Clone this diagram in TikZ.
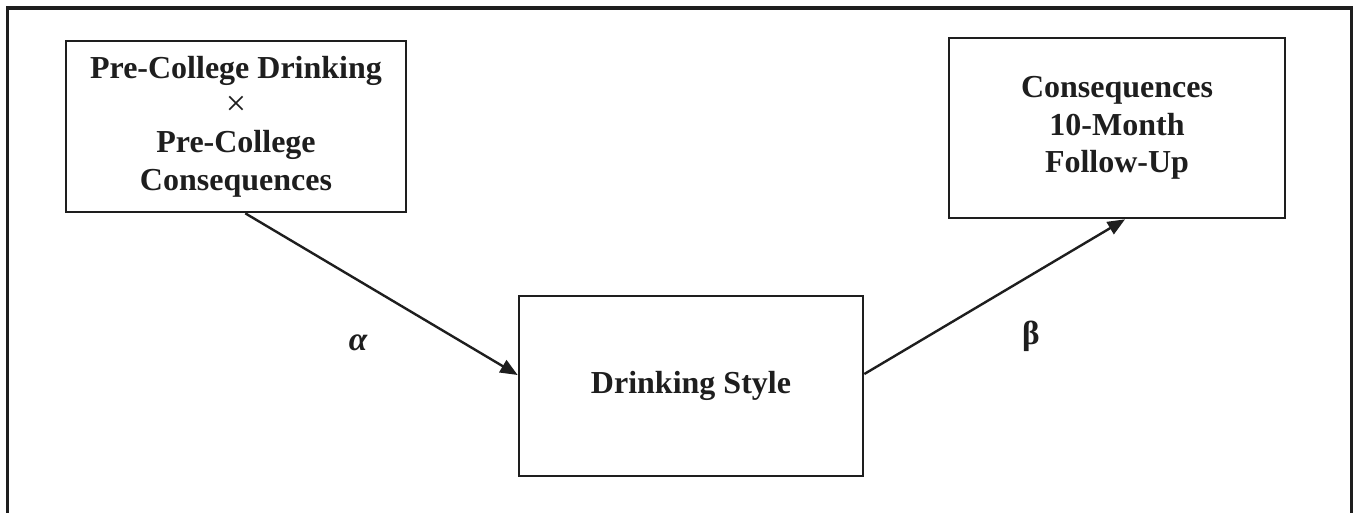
\documentclass[tikz,border=0pt]{standalone}
\usepackage{fontspec}
\setmainfont{Liberation Serif}
\usetikzlibrary{arrows.meta}
\definecolor{ink}{HTML}{1E1E1E}
\begin{document}
\begin{tikzpicture}[x=0.75pt,y=-0.75pt,
  box/.style={draw=ink,line width=2pt,inner sep=0pt,align=center,
    font=\fontsize{24}{28}\selectfont\bfseries,text=ink},
  link/.style={draw=ink,line width=1.8pt,-{Triangle[length=13pt,width=10.5pt]}},
  coef/.style={font=\fontsize{25}{28}\selectfont\bfseries,text=ink,inner sep=0pt}]
  \useasboundingbox (0,0) rectangle (1354,512);
  \clip (0,0) rectangle (1354,512);
  % outer frame (its bottom edge lies below the page)
  \draw[ink,line width=2.3pt] (7.5,8) rectangle (1351.5,540);
  % the three variables
  \node[box,minimum width=255pt,minimum height=128.25pt] (pre) at (236,126.5)
    {Pre-College Drinking\\{\mdseries\fontsize{27}{28}\selectfont ×}\\Pre-College\\Consequences};
  \node[box,minimum width=258pt,minimum height=135pt] (style) at (691,386)
    {Drinking Style};
  \node[box,minimum width=252pt,minimum height=135pt] (follow) at (1117,128)
    {Consequences\\10-Month\\Follow-Up};
  % paths
  \draw[link] ([xshift=7pt]pre.south) -- ([yshift=8.25pt]style.west);
  \draw[link] ([yshift=9pt]style.east) -- ([xshift=6pt]follow.south);
  % path coefficients
  \node[coef] (alpha) at (358,343) {\itshape α};
  \node[coef] (beta) at (1031,336) {β};
\end{tikzpicture}
\end{document}
